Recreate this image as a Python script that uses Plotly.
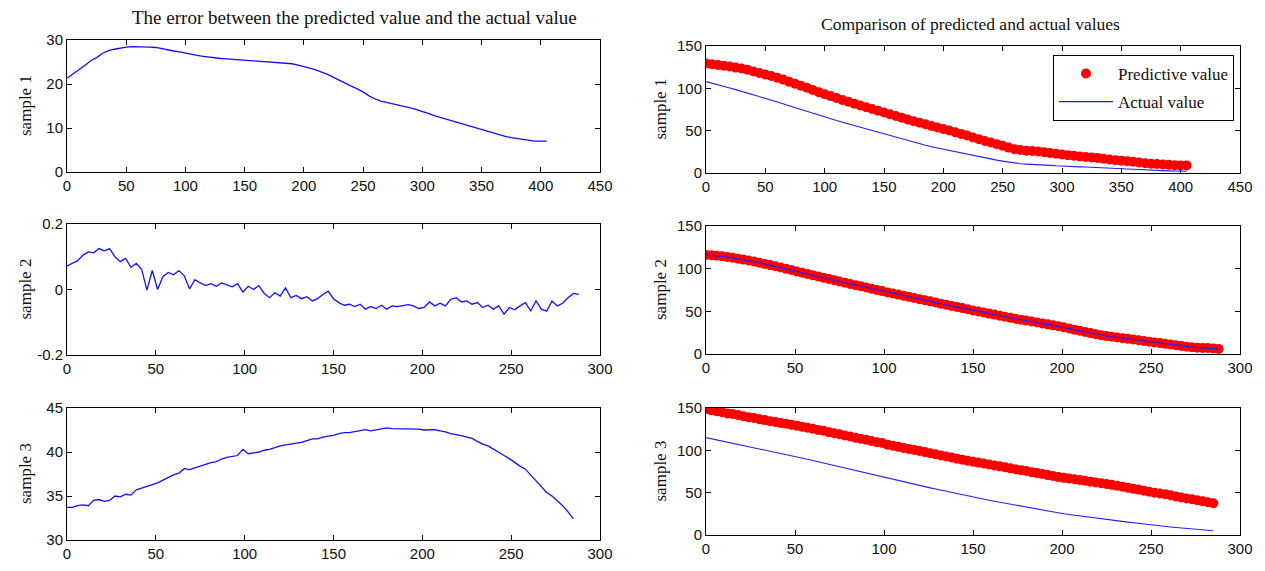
import plotly.graph_objects as go

# ---------------- data ----------------
# sample 1 (index step 5, 0..405)
s1_step = 5
s1_error = [21.3, 22.2, 23.1, 24.2, 25.3, 26.0, 27.0, 27.6, 27.9, 28.2,
            28.4, 28.5, 28.5, 28.5, 28.4, 28.3, 28.0, 27.8, 27.5, 27.3,
            27.0, 26.8, 26.5, 26.3, 26.1, 25.9, 25.8, 25.7, 25.6, 25.5,
            25.4, 25.4, 25.3, 25.2, 25.1, 25.0, 24.9, 24.8, 24.6, 24.3,
            24.0, 23.6, 23.2, 22.7, 22.2, 21.5, 20.8, 20.1, 19.5, 18.9,
            18.2, 17.3, 16.6, 16.1, 15.8, 15.6, 15.3, 15.0, 14.6, 14.2,
            13.8, 13.3, 12.8, 12.4, 12.0, 11.6, 11.2, 10.8, 10.4, 10.0,
            9.6, 9.2, 8.8, 8.4, 8.1, 7.8, 7.6, 7.3, 7.1, 7.0, 7.0, 7.0]
s1_actual = [108, 106.3, 104.5, 102.5, 100.5, 98.5, 96.5, 94.3, 92, 90,
             88, 86, 84, 81.8, 79.5, 77.2, 75, 72.8, 70.5, 68.2,
             66, 64, 62, 60, 58, 56, 54, 52, 50, 48,
             46, 44, 42, 40, 38, 36.2, 34.5, 32.7, 31, 29.5,
             28, 26.5, 25, 23.5, 22, 20.5, 19, 17.7, 16.5, 15.2,
             14, 12.7, 11.5, 11, 10.5, 10.3, 10, 9.5, 9, 8.5,
             8, 7.8, 7.5, 7.2, 7, 6.8, 6.5, 6, 5.5, 5.2,
             5, 4.8, 4.5, 4, 3.5, 3.2, 3, 2.8, 2.5, 2.2, 2, 2]

# sample 2 (index step 3, 0..288)
s2_step = 3
s2_error = [0.072, 0.080, 0.088, 0.105, 0.115, 0.112, 0.125, 0.118, 0.125, 0.100,
            0.085, 0.095, 0.068, 0.080, 0.062, -0.002, 0.058, 0.000, 0.040, 0.052,
            0.045, 0.058, 0.042, 0.002, 0.030, 0.020, 0.012, 0.018, 0.010, 0.020,
            0.015, 0.008, 0.018, -0.008, 0.010, 0.000, 0.012, -0.012, -0.025, -0.010,
            -0.020, 0.005, -0.025, -0.018, -0.028, -0.022, -0.035, -0.028, -0.015, -0.005,
            -0.028, -0.040, -0.048, -0.045, -0.052, -0.045, -0.060, -0.052, -0.058, -0.048,
            -0.060, -0.050, -0.052, -0.048, -0.046, -0.050, -0.058, -0.055, -0.038, -0.050,
            -0.042, -0.050, -0.030, -0.025, -0.038, -0.035, -0.045, -0.040, -0.055, -0.048,
            -0.060, -0.050, -0.075, -0.055, -0.062, -0.050, -0.040, -0.065, -0.035, -0.060,
            -0.066, -0.035, -0.050, -0.042, -0.025, -0.012, -0.015]
s2_actual = [116.0, 115.6, 115.0, 114.3, 113.5, 112.6, 111.6, 110.5, 109.4, 108.2,
             106.9, 105.5, 104.1, 102.7, 101.3, 99.8, 98.3, 96.7, 95.2, 93.8,
             92.3, 90.9, 89.4, 88.0, 86.5, 85.0, 83.6, 82.1, 80.7, 79.3,
             77.9, 76.5, 75.1, 73.7, 72.2, 70.9, 69.6, 68.3, 67.0, 65.6,
             64.3, 63.0, 61.7, 60.4, 59.0, 57.7, 56.4, 55.1, 53.8, 52.4,
             51.0, 49.8, 48.6, 47.4, 46.2, 45.0, 43.8, 42.6, 41.4, 40.3,
             39.2, 38.1, 37.0, 35.9, 34.8, 33.6, 32.5, 31.4, 30.0, 28.6,
             27.2, 25.8, 24.5, 23.2, 22.0, 21.0, 20.2, 19.4, 18.6, 17.8,
             17.0, 16.2, 15.3, 14.4, 13.6, 12.8, 12.0, 11.2, 10.4, 9.5,
             8.6, 8.0, 7.5, 7.2, 7.0, 6.6, 6.0]

# sample 3 (index step 3, 0..285)
s3_step = 3
s3_error = [33.7, 33.7, 33.9, 34.0, 33.9, 34.5, 34.6, 34.4, 34.5, 35.0,
            34.9, 35.2, 35.1, 35.7, 35.9, 36.1, 36.3, 36.5, 36.8, 37.1,
            37.4, 37.6, 38.1, 38.0, 38.2, 38.4, 38.6, 38.8, 38.9, 39.2,
            39.4, 39.5, 39.6, 40.3, 39.8, 39.9, 40.0, 40.2, 40.3, 40.5,
            40.7, 40.8, 40.9, 41.0, 41.1, 41.3, 41.5, 41.5, 41.7, 41.8,
            41.9, 42.1, 42.2, 42.2, 42.3, 42.4, 42.55, 42.4, 42.5, 42.6,
            42.75, 42.65, 42.65, 42.65, 42.65, 42.65, 42.6, 42.5, 42.5, 42.55,
            42.4, 42.3, 42.1, 42.0, 41.85, 41.7, 41.55, 41.2, 40.9, 40.7,
            40.3, 40.0, 39.6, 39.25, 38.8, 38.4, 38.05, 37.4, 36.7, 36.0,
            35.4, 35.0, 34.5, 33.9, 33.2, 32.4]
s3_actual = [115.0, 113.7, 112.4, 111.0, 109.7, 108.4, 107.1, 105.8, 104.5, 103.1,
             101.8, 100.5, 99.2, 97.9, 96.5, 95.2, 93.9, 92.5, 91.0, 89.5,
             88.0, 86.5, 85.0, 83.5, 82.0, 80.5, 79.0, 77.5, 76.0, 74.5,
             73.0, 71.5, 70.0, 68.3, 66.9, 65.5, 64.1, 62.7, 61.3, 59.9,
             58.5, 57.1, 55.7, 54.3, 52.9, 51.5, 50.1, 48.7, 47.3, 45.9,
             44.6, 43.4, 42.2, 41.0, 39.9, 38.7, 37.5, 36.3, 35.2, 34.0,
             32.8, 31.6, 30.5, 29.3, 28.1, 27.0, 25.8, 25.0, 24.2, 23.3,
             22.5, 21.7, 20.9, 20.1, 19.3, 18.5, 17.7, 16.9, 16.0, 15.2,
             14.4, 13.6, 12.8, 11.9, 11.2, 10.6, 10.0, 9.5, 8.9, 8.3,
             7.8, 7.2, 6.6, 6.0, 5.5, 5.0]

samples = [
    ("sample 1", s1_step, s1_error, s1_actual),
    ("sample 2", s2_step, s2_error, s2_actual),
    ("sample 3", s3_step, s3_error, s3_actual),
]

left_yticks = [[0, 10, 20, 30], [-0.2, 0, 0.2], [30, 35, 40, 45]]
left_ytext = [["0", "10", "20", "30"], ["-0.2", "0", "0.2"], ["30", "35", "40", "45"]]
left_yrange = [[0, 30], [-0.2, 0.2], [30, 45]]
xranges = [[0, 450], [0, 300], [0, 300]]
xticks = [[0, 50, 100, 150, 200, 250, 300, 350, 400, 450],
          [0, 50, 100, 150, 200, 250, 300],
          [0, 50, 100, 150, 200, 250, 300]]
right_yticks = [0, 50, 100, 150]

# ---------------- layout geometry ----------------
W, H = 1265, 571
left_x = [67, 600]
right_x = [706, 1240]
left_y = [(40, 172), (224, 355), (408, 540)]
right_y = [(46, 173), (226, 354), (408, 535)]


def xd(a):
    return [a[0] / W, a[1] / W]


def yd(t):
    return [1 - t[1] / H, 1 - t[0] / H]


SERIF = "Liberation Serif, Times New Roman, serif"
fig = go.Figure()
tickfont = dict(family="Liberation Sans, Arial", size=15, color="#111111")
layout = dict(
    width=W, height=H, margin=dict(l=0, r=0, t=0, b=0, autoexpand=False),
    paper_bgcolor="white", plot_bgcolor="white",
    showlegend=True,
    legend=dict(x=1053 / W, y=1 - 55 / H, xanchor="left", yanchor="top",
                bordercolor="black", borderwidth=1, bgcolor="white",
                font=dict(family=SERIF, size=17, color="#111111"),
                itemwidth=54, traceorder="grouped", tracegroupgap=3),
)

annotations = []
for i, (name, step, err, act) in enumerate(samples):
    if len(err) != len(act):
        raise ValueError(f"{name}: lengths {len(err)} vs {len(act)}")
    idx = list(range(0, step * len(err), step))
    pred = [a + e for a, e in zip(act, err)]
    la = 2 * i + 1
    ra = 2 * i + 2
    lx = "x" if la == 1 else f"x{la}"
    ly = "y" if la == 1 else f"y{la}"
    rx = f"x{ra}"
    ry = f"y{ra}"
    fig.add_trace(go.Scatter(x=idx, y=err, mode="lines", xaxis=lx, yaxis=ly,
                             line=dict(color="#1010ff", width=1.3), showlegend=False))
    fig.add_trace(go.Scatter(x=idx, y=pred, mode="markers", xaxis=rx, yaxis=ry,
                             marker=dict(color="#ff0000", size=10, line=dict(width=0)),
                             name="Predictive value", legendgroup="pred",
                             showlegend=(i == 0)))
    fig.add_trace(go.Scatter(x=idx, y=act, mode="lines", xaxis=rx, yaxis=ry,
                             line=dict(color="#2020ff", width=1.1),
                             name="Actual value", legendgroup="act",
                             showlegend=(i == 0)))

    common = dict(showgrid=False, zeroline=False, showline=True, linecolor="black",
                  linewidth=1, mirror="ticks", ticks="inside", ticklen=5,
                  tickcolor="black", tickfont=tickfont, automargin=False)
    lk = "" if la == 1 else str(la)
    layout["xaxis" + lk] = dict(common, domain=xd(left_x), range=xranges[i],
                                tickvals=xticks[i], anchor=ly)
    layout["yaxis" + lk] = dict(common, domain=yd(left_y[i]), range=left_yrange[i],
                                tickvals=left_yticks[i], ticktext=left_ytext[i], anchor=lx)
    layout["xaxis" + str(ra)] = dict(common, domain=xd(right_x), range=xranges[i],
                                     tickvals=xticks[i], anchor=ry)
    layout["yaxis" + str(ra)] = dict(common, domain=yd(right_y[i]), range=[0, 150],
                                     tickvals=right_yticks, anchor=rx)

    for xc, (t, b) in ((25, left_y[i]), (660, right_y[i])):
        annotations.append(dict(text=name, x=xc / W, y=1 - (t + b) / 2 / H,
                                xref="paper", yref="paper", showarrow=False,
                                textangle=-90, xanchor="center", yanchor="middle",
                                font=dict(family=SERIF, size=17, color="#111111")))

annotations.append(dict(text="The error between the predicted value and the actual value",
                        x=354 / W, y=1 - 18 / H, xref="paper", yref="paper",
                        showarrow=False, xanchor="center", yanchor="middle",
                        font=dict(family=SERIF, size=19, color="#111111")))
annotations.append(dict(text="Comparison of predicted and actual values",
                        x=970 / W, y=1 - 24 / H, xref="paper", yref="paper",
                        showarrow=False, xanchor="center", yanchor="middle",
                        font=dict(family=SERIF, size=17.5, color="#111111")))
layout["annotations"] = annotations
fig.update_layout(**layout)
fig.write_html("out.html", config={"displayModeBar": False},
               post_script="document.body.style.margin='0px';document.body.style.overflow='hidden';")
